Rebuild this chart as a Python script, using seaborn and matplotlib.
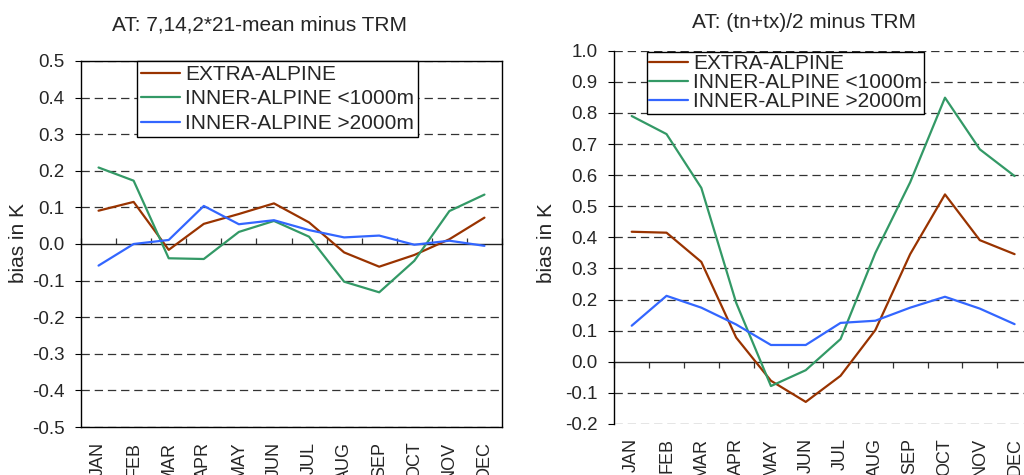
import numpy as np
import pandas as pd
import matplotlib
matplotlib.use("Agg")
import matplotlib.pyplot as plt
import seaborn as sns

# ---------------- data ----------------
months = ["JAN", "FEB", "MAR", "APR", "MAY", "JUN", "JUL", "AUG", "SEP", "OCT", "NOV", "DEC"]
series_names = ["EXTRA-ALPINE", "INNER-ALPINE <1000m", "INNER-ALPINE >2000m"]
colors = ["#993300", "#339966", "#3366FF"]

left_title = "AT: 7,14,2*21-mean minus TRM"
left_extra = [0.091, 0.115, -0.016, 0.055, 0.082, 0.111, 0.059, -0.023, -0.062, -0.030, 0.013, 0.072]
left_inner_low = [0.209, 0.173, -0.039, -0.041, 0.033, 0.063, 0.020, -0.103, -0.132, -0.046, 0.090, 0.135]
left_inner_high = [-0.059, 0.000, 0.011, 0.104, 0.054, 0.065, 0.038, 0.018, 0.023, -0.002, 0.009, -0.005]
left_yticks = [-0.5, -0.4, -0.3, -0.2, -0.1, 0.0, 0.1, 0.2, 0.3, 0.4, 0.5]

right_title = "AT: (tn+tx)/2 minus TRM"
right_extra = [0.418, 0.415, 0.321, 0.078, -0.061, -0.129, -0.045, 0.102, 0.346, 0.538, 0.391, 0.346]
right_inner_low = [0.790, 0.732, 0.559, 0.190, -0.078, -0.027, 0.073, 0.350, 0.577, 0.849, 0.683, 0.597]
right_inner_high = [0.116, 0.212, 0.174, 0.120, 0.054, 0.054, 0.125, 0.132, 0.174, 0.209, 0.171, 0.121]
right_yticks = [-0.2, -0.1, 0.0, 0.1, 0.2, 0.3, 0.4, 0.5, 0.6, 0.7, 0.8, 0.9, 1.0]

ylabel = "bias in K"

# ---------------- style ----------------
sns.set_style("white")
plt.rcParams["font.family"] = ["Liberation Sans", "DejaVu Sans"]
plt.rcParams["lines.scale_dashes"] = False

W, H = 1024, 475
fig = plt.figure(figsize=(W / 100, H / 100), dpi=100)


def px_axes(x0, y0, x1, y1):
    return fig.add_axes([x0 / W, 1 - y1 / H, (x1 - x0) / W, (y1 - y0) / H])


def make_df(a, b, c):
    rows = []
    for name, vals in zip(series_names, (a, b, c)):
        for i, v in enumerate(vals):
            rows.append({"month": i, "series": name, "value": v})
    return pd.DataFrame(rows)


def draw(ax, df, yticks, full_border, legend_anchor, labelspacing, borderpad, xpad):
    sns.lineplot(data=df, x="month", y="value", hue="series", hue_order=series_names,
                 palette=colors, linewidth=1.6, ax=ax, legend=False, sort=False)
    ax.set_xlim(-0.5, len(months) - 0.5)
    ax.set_ylim(yticks[0], yticks[-1])
    ax.set_xlabel("")
    ax.set_ylabel("")
    ax.set_yticks(yticks)
    ax.set_yticklabels([f"{t:.1f}" for t in yticks], fontsize=13.5)
    ax.set_xticks(range(len(months)))
    ax.set_xticklabels(months, rotation=90, fontsize=13, va="top")
    ax.tick_params(axis="x", length=0, pad=xpad)
    ax.tick_params(axis="y", direction="out", length=4, width=0.8, pad=8, left=True, color="black")
    for yt in yticks:
        if abs(yt) < 1e-9:
            continue
        ax.axhline(yt, color="#333333", lw=0.9, linestyle=(0, (6, 3.5)), zorder=0.5)
    for s in ["top", "right", "bottom", "left"]:
        ax.spines[s].set_color("black")
        ax.spines[s].set_linewidth(1.0)
    if not full_border:
        for s in ["top", "right", "bottom"]:
            ax.spines[s].set_visible(False)
    # category axis crossing at zero with tick marks between categories
    loc = (0 - yticks[0]) / (yticks[-1] - yticks[0])
    sec = ax.secondary_xaxis(loc)
    sec.set_xticks(np.arange(-0.5, len(months), 1.0))
    sec.set_xticklabels([])
    sec.tick_params(direction="out", length=4.5, width=0.9, color="#333333")
    for s in sec.spines.values():
        s.set_color("#222222")
        s.set_linewidth(1.0)
    handles = [plt.Line2D([], [], color=c, lw=1.6) for c in colors]
    leg = ax.legend(handles, series_names, loc="upper left",
                    bbox_to_anchor=legend_anchor, bbox_transform=fig.transFigure,
                    fontsize=15, frameon=True, fancybox=False, framealpha=1,
                    edgecolor="black", borderpad=borderpad, handlelength=1.85,
                    handletextpad=0.25, labelspacing=labelspacing, borderaxespad=0)
    leg.get_frame().set_linewidth(1.0)
    leg.set_zorder(10)


axL = px_axes(81, 61, 502, 427)
draw(axL, make_df(left_extra, left_inner_low, left_inner_high), left_yticks, True,
     (137 / W, 1 - 60.7 / H), 0.27, 0.2, 10.5)

axR = px_axes(614.3, 50.7, 1032, 424)
draw(axR, make_df(right_extra, right_inner_low, right_inner_high), right_yticks, False,
     (646.7 / W, 1 - 51.7 / H), 0.0, 0.12, 10)

fig.text(259 / W, 1 - 25 / H, left_title, ha="center", va="center", fontsize=15)
fig.text(804 / W, 1 - 22 / H, right_title, ha="center", va="center", fontsize=15)
fig.text(18 / W, 1 - 243 / H, ylabel, ha="center", va="center", rotation=90, fontsize=15)
fig.text(546 / W, 1 - 243 / H, ylabel, ha="center", va="center", rotation=90, fontsize=15)

fig.savefig("out.png", dpi=100)
